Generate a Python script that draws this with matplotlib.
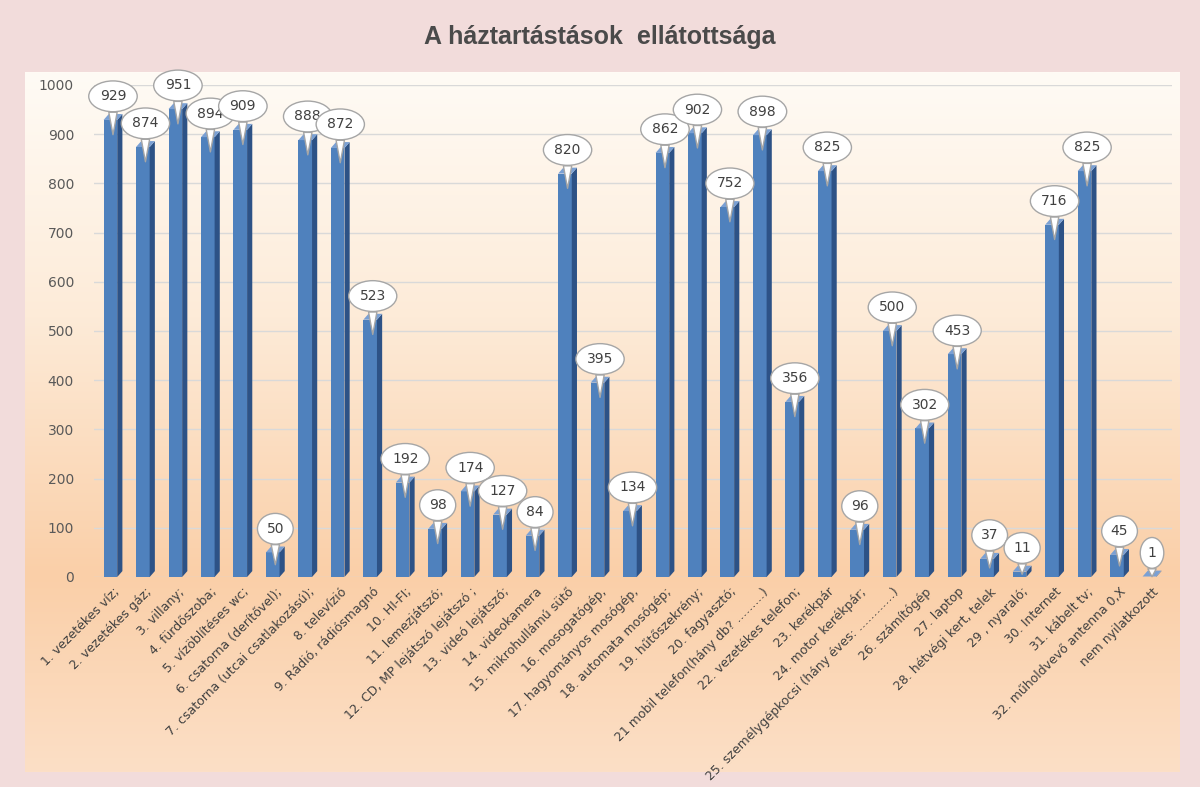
import matplotlib
matplotlib.use("Agg")
import matplotlib.pyplot as plt
import numpy as np
from matplotlib.patches import Polygon, Rectangle
from matplotlib.colors import LinearSegmentedColormap

categories = [
    "1. vezetékes víz;", "2. vezetékes gáz;", "3. villany;", "4. fürdőszoba;",
    "5. vízöblítéses wc;", "6. csatorna (derítővel);", "7. csatorna (utcai csatlakozású);",
    "8. televízió", "9. Rádió, rádiósmagnó", "10. HI-FI;", "11. lemezjátszó;",
    "12. CD, MP lejátszó lejátszó ;", "13. videó lejátszó;", "14. videokamera",
    "15. mikrohullámú sütő", "16. mosogatógép,", "17. hagyományos mosógép,",
    "18. automata mosógép;", "19. hűtőszekrény;", "20. fagyasztó;",
    "21 mobil telefon(hány db? ………)", "22. vezetékes telefon;", "23. kerékpár",
    "24. motor kerékpár;", "25. személygépkocsi (hány éves: …………)", "26. számítógép",
    "27. laptop", "28. hétvégi kert, telek", "29 , nyaraló;", "30. Internet",
    "31. kábelt tv;", "32. műholdvevő antenna 0,X", "nem nyilatkozott",
]
values = [929, 874, 951, 894, 909, 50, 888, 872, 523, 192, 98, 174, 127, 84, 820,
          395, 134, 862, 902, 752, 898, 356, 825, 96, 500, 302, 453, 37, 11, 716,
          825, 45, 1]
yticks = [0, 100, 200, 300, 400, 500, 600, 700, 800, 900, 1000]
title = "A háztartástások  ellátottsága"

W, H = 1200, 787
fig = plt.figure(figsize=(W / 100, H / 100), dpi=100)
fig.patch.set_facecolor("#f2dcdb")

# inner gradient panel
bg = fig.add_axes([25 / W, 1 - 772 / H, (1180 - 25) / W, (772 - 72) / H])
bg.set_axis_off()
cmap = LinearSegmentedColormap.from_list(
    "g", [(0, "#fffbf5"), (0.35, "#fdebd8"), (0.72, "#facfa8"), (1, "#fcdfc6")])
grad = np.linspace(0, 1, 256).reshape(-1, 1)
bg.imshow(grad, aspect="auto", cmap=cmap, extent=[0, 1, 1, 0])
bg.set_xlim(0, 1); bg.set_ylim(1, 0)

fig.text(0.5, 1 - 37 / H, title, ha="center", va="center", fontsize=18,
         fontweight="bold", color="#4a4a4a",
         family=["Liberation Sans Narrow", "Liberation Sans", "DejaVu Sans"])

ax = fig.add_axes([93.5 / W, 1 - 577 / H, (1171.5 - 93.5) / W, (577 - 85) / H])
ax.set_facecolor("none")
n = len(values)
x = np.arange(n)
ax.set_xlim(-0.6, n - 0.4)
ax.set_ylim(0, 1000)
ax.set_yticks(yticks)
ax.tick_params(axis="y", length=0, labelsize=10, labelcolor="#595959", pad=14)
ax.yaxis.grid(True, color="#d9d9d9", linewidth=1)
ax.set_axisbelow(True)
for s in ax.spines.values():
    s.set_visible(False)

bw = 0.42
dx = 0.16
dy = 12
front = "#4f81bd"
side = "#2d5286"
top = "#7aa0d4"
for xi, v in zip(x, values):
    x0 = xi - bw / 2 - dx / 2
    ax.add_patch(Rectangle((x0, 0), bw, v, facecolor=front, edgecolor="none", zorder=3))
    ax.add_patch(Polygon([(x0 + bw, 0), (x0 + bw + dx, dy), (x0 + bw + dx, v + dy), (x0 + bw, v)],
                         closed=True, facecolor=side, edgecolor="none", zorder=3))
    ax.add_patch(Polygon([(x0, v), (x0 + bw, v), (x0 + bw + dx, v + dy), (x0 + dx, v + dy)],
                         closed=True, facecolor=top, edgecolor="none", zorder=3))

ax.set_xticks(x)
ax.set_xticklabels(categories, rotation=45, ha="right", rotation_mode="anchor",
                   fontsize=9, color="#404040")
ax.tick_params(axis="x", length=0, pad=6)

for xi, v in zip(x, values):
    tip = max(v - 30, v * 0.5)
    ax.annotate(str(v), xy=(xi, tip), xytext=(xi, v + 48), ha="center", va="center",
                fontsize=10, color="#404040", zorder=6, annotation_clip=False,
                bbox=dict(boxstyle="ellipse,pad=0.28", fc="white", ec="#a6a6a6", lw=1),
                arrowprops=dict(arrowstyle="wedge,tail_width=0.6,shrink_factor=0.5",
                                fc="white", ec="#a6a6a6", lw=1, shrinkA=0, shrinkB=0))

fig.savefig("out.png", dpi=100, facecolor=fig.get_facecolor())
